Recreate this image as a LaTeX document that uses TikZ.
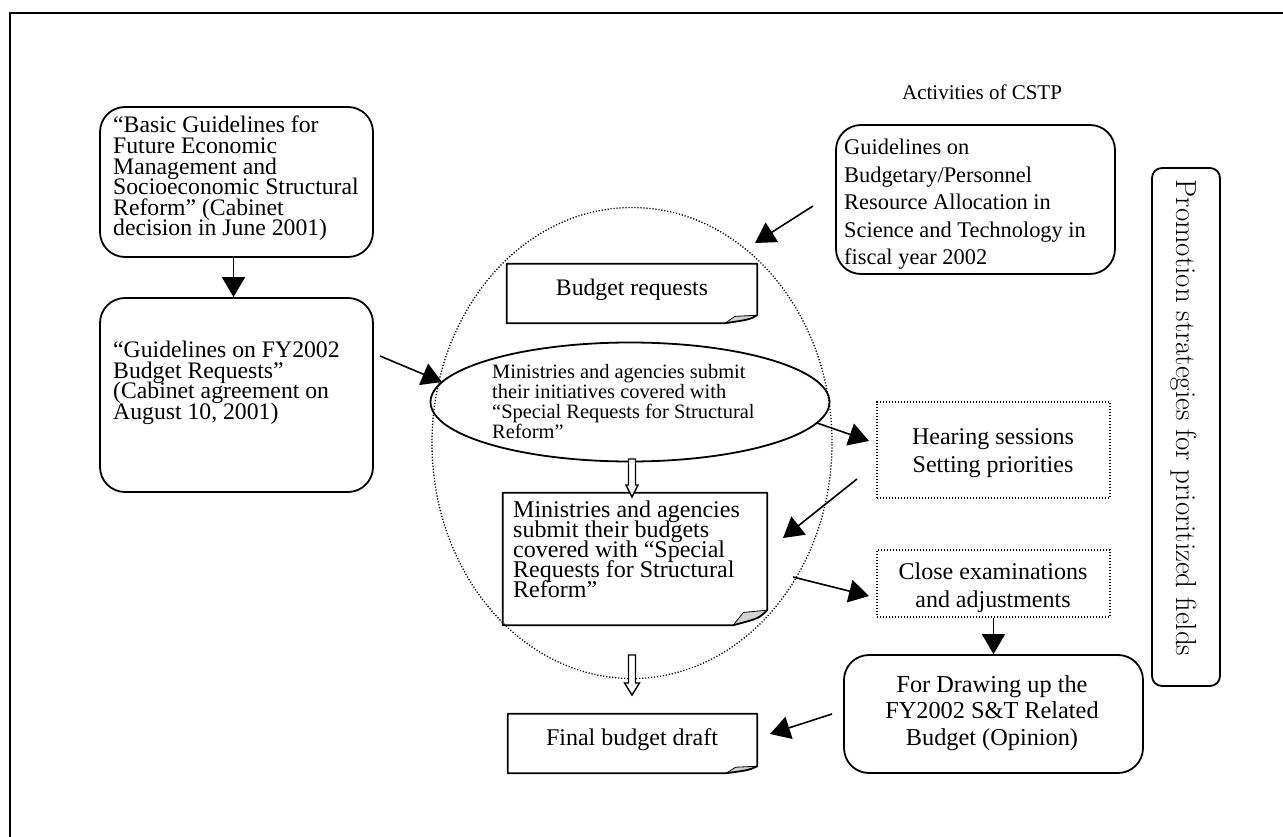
\documentclass[tikz,border=0pt]{standalone}
\usepackage{fontspec}
\newfontfamily\tnr{Liberation Serif}
\usetikzlibrary{shapes.geometric,arrows.meta,calc}
\AtBeginDocument{\lineskiplimit=-100pt\relax\lineskip=0pt\relax}

\tikzset{
  boxline/.style={line width=1.8pt, line join=round},
  rbox/.style={draw, line width=1.8pt, rounded corners=25pt, inner sep=0pt},
  dbox/.style={draw, line width=1.3pt, dash pattern=on 1.3pt off 1.7pt, inner sep=0pt},
  holder/.style={inner sep=0pt},
  txt/.style={inner sep=0pt, align=left, font=\tnr\fontsize{23.7}{20.6}\selectfont},
  txtc/.style={inner sep=0pt, align=center, font=\tnr\fontsize{24}{28}\selectfont},
  arr/.style={line width=1.6pt, -{Triangle[length=20pt,width=23pt]}},
}

\newcommand\notebox[3]{%
  \fill[gray!35] ([xshift=-#2]#1.south east) -- ([xshift={-0.7*#2},yshift={0.85*#3}]#1.south east) -- ([yshift=#3]#1.south east) .. controls ([xshift={-0.25*#2},yshift={0.45*#3}]#1.south east) .. ([xshift=-#2]#1.south east) -- cycle;
  \draw[line width=0.8pt] ([xshift=-#2]#1.south east) -- ([xshift={-0.7*#2},yshift={0.85*#3}]#1.south east) -- ([yshift=#3]#1.south east);
  \draw[boxline] ([xshift=-#2]#1.south east) -- (#1.south west) -- (#1.north west) -- (#1.north east) -- ([yshift=#3]#1.south east) .. controls ([xshift={-0.25*#2},yshift={0.45*#3}]#1.south east) .. ([xshift=-#2]#1.south east);
}

\newcommand\hollowarrow[3]{%
  \draw[line width=1.4pt, fill=white, line join=miter] let \p1=#1, \p2=#2 in
  (\x1-3.5pt,\y1) -- (\x1-3.5pt,\y2+12pt) -- (\x1-#3,\y2+12pt) -- (\x2,\y2) -- (\x1+#3,\y2+12pt) -- (\x1+3.5pt,\y2+12pt) -- (\x1+3.5pt,\y1) -- cycle;
}

\begin{document}
\begin{tikzpicture}[x=1pt,y=-1pt]
\useasboundingbox (0,0) rectangle (1283,837);
\fill[white] (0,0) rectangle (1283,837);
\draw[line width=1.5pt] (10,837) -- (10,13) -- (1283,13);

% left boxes
\node[rbox, minimum width=273pt, minimum height=150pt] (b1) at (236.5,182) {};
\node[txt, anchor=north west] (t1) at (113,116) {“Basic Guidelines for\\Future Economic\\Management and\\Socioeconomic Structural\\Reform” (Cabinet\\decision in June 2001)};
\node[rbox, minimum width=273pt, minimum height=194pt] (b2) at (236.5,395) {};
\node[txt, anchor=north west] (t2) at (113,341) {“Guidelines on FY2002\\Budget Requests”\\(Cabinet agreement on\\August 10, 2001)};

% central dotted ellipse
\node[draw, ellipse, line width=1.3pt, dash pattern=on 1.2pt off 1.8pt, minimum width=400pt, minimum height=471pt, inner sep=0pt] (dotell) at (632,443) {};

% budget requests note
\node[holder, minimum width=250pt, minimum height=59pt] (br) at (632,293.5) {};
\notebox{br}{32}{8}
\node[txt, anchor=base] (brt) at (632,295) {Budget requests};

% solid ellipse
\node[draw, ellipse, line width=1.8pt, minimum width=399pt, minimum height=119pt, inner sep=0pt] (ell) at (630,402) {};
\node[txt, anchor=north west, font=\tnr\fontsize{20.4}{20}\selectfont] (et) at (492,364) {Ministries and agencies submit\\their initiatives covered with\\“Special Requests for Structural\\Reform”};

% budgets note
\node[holder, minimum width=264pt, minimum height=132pt] (bb) at (635,559) {};
\notebox{bb}{34}{15}
\node[txt, anchor=north west, font=\tnr\fontsize{24}{20}\selectfont] (bbt) at (513,501) {Ministries and agencies\\submit their budgets\\covered with “Special\\Requests for Structural\\Reform”};

% final budget draft note
\node[holder, minimum width=249pt, minimum height=59pt] (fb) at (632.5,743.5) {};
\notebox{fb}{31}{7}
\node[txt, anchor=base, font=\tnr\fontsize{24}{28}\selectfont] (fbt) at (632,745) {Final budget draft};

% hollow arrows
\coordinate (h1s) at (632,459);
\coordinate (h1e) at (632,497);
\hollowarrow{(h1s)}{(h1e)}{6pt}
\coordinate (h2s) at (632,655);
\coordinate (h2e) at (632,695);
\hollowarrow{(h2s)}{(h2e)}{7.5pt}

% CSTP side
\node[txt, anchor=base, font=\tnr\fontsize{21}{24}\selectfont] (act) at (982,100) {Activities of CSTP};
\node[rbox, minimum width=279pt, minimum height=149pt] (g2) at (975.5,199.5) {};
\node[txt, anchor=north west, font=\tnr\fontsize{22.4}{27.5}\selectfont] (g2t) at (844,139) {Guidelines on\\Budgetary/Personnel\\Resource Allocation in\\Science and Technology in\\fiscal year 2002};

\node[dbox, minimum width=233pt, minimum height=96pt] (hs) at (993.5,450) {};
\node[txtc, anchor=north] (hst) at (993,428) {Hearing sessions\\Setting priorities};
\node[dbox, minimum width=233pt, minimum height=67pt] (ce) at (993.5,583.5) {};
\node[txtc, anchor=north] (cet) at (993,563) {Close examinations\\and adjustments};

\node[rbox, minimum width=299pt, minimum height=118pt] (fd) at (993.5,714) {};
\node[txtc, anchor=north, font=\tnr\fontsize{24.3}{26.5}\selectfont] (fdt) at (992,675) {For Drawing up the\\FY2002 S\&T Related\\Budget (Opinion)};

\node[draw, line width=1.8pt, rounded corners=10pt, minimum width=68pt, minimum height=518pt, inner sep=0pt] (pr) at (1186,427) {};
\node[rotate=-90, inner sep=0pt, font=\fontsize{29}{32}\selectfont] (prt) at (1184,418) {Promotion strategies for prioritized fields};

% arrows
\draw[arr] ([xshift=-3pt]b1.south) -- ([xshift=-3pt]b2.north);
\coordinate (a2s) at (380,356); \coordinate (a2e) at (442,382);
\draw[arr] (a2s) -- (a2e);
\coordinate (a3s) at (813,206); \coordinate (a3e) at (755,243);
\draw[arr] (a3s) -- (a3e);
\coordinate (a4s) at (817,423); \coordinate (a4e) at (869,441);
\draw[arr] (a4s) -- (a4e);
\coordinate (a5s) at (857,479); \coordinate (a5e) at (783,538);
\draw[arr] (a5s) -- (a5e);
\coordinate (a6s) at (793,577); \coordinate (a6e) at (869,596);
\draw[arr] (a6s) -- (a6e);
\draw[arr] (ce.south) -- (fd.north);
\coordinate (a8s) at (832,714); \coordinate (a8e) at (770,734);
\draw[arr] (a8s) -- (a8e);
\end{tikzpicture}
\end{document}
